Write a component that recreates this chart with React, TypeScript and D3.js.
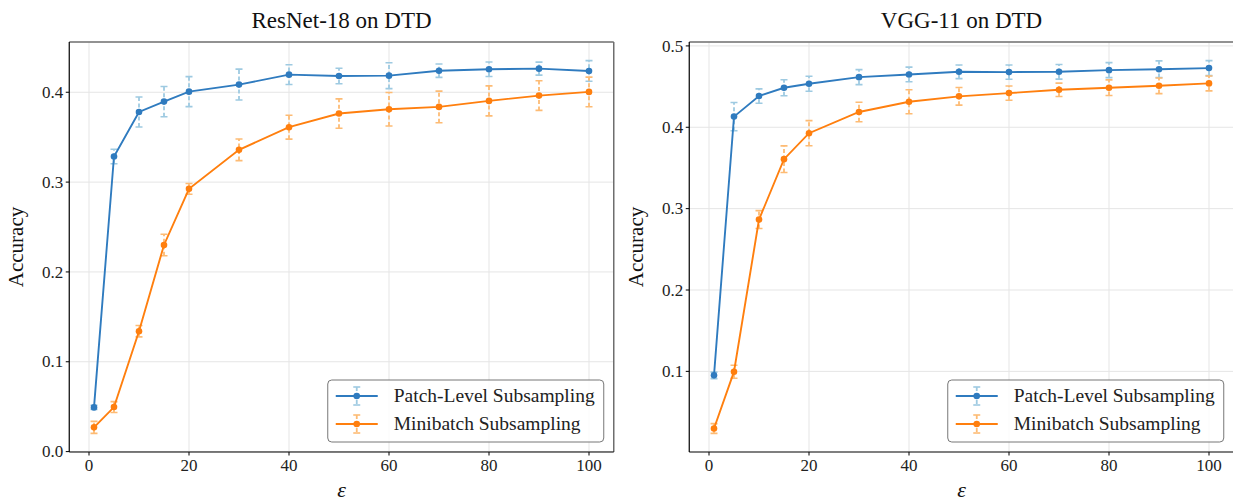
import React from "react";
import * as d3 from "d3";

const eps = [1, 5, 10, 15, 20, 30, 40, 50, 60, 70, 80, 90, 100];
const xTicks = [0, 20, 40, 60, 80, 100];

const resnetPatchMean = [0.0492, 0.3285, 0.3781, 0.3896, 0.4007, 0.4085, 0.4196, 0.4181, 0.4185, 0.424, 0.4256, 0.4263, 0.4237];
const resnetPatchErr = [0.0024, 0.008, 0.0167, 0.0168, 0.0167, 0.0172, 0.011, 0.0087, 0.0144, 0.0074, 0.0081, 0.0072, 0.0115];
const resnetMiniMean = [0.027, 0.0496, 0.134, 0.23, 0.2925, 0.3359, 0.3611, 0.3763, 0.3811, 0.3837, 0.3904, 0.3963, 0.4004];
const resnetMiniErr = [0.0067, 0.006, 0.0063, 0.012, 0.006, 0.012, 0.0133, 0.0163, 0.0187, 0.0176, 0.0167, 0.0165, 0.0165];

const vggPatchMean = [0.0951, 0.4131, 0.4384, 0.4486, 0.4535, 0.4616, 0.4649, 0.4682, 0.4678, 0.4682, 0.4702, 0.4714, 0.4727];
const vggPatchErr = [0.004, 0.0173, 0.0088, 0.0098, 0.0092, 0.0092, 0.009, 0.0084, 0.0088, 0.009, 0.0092, 0.0102, 0.0092];
const vggMiniMean = [0.0298, 0.0996, 0.2865, 0.3608, 0.3927, 0.4188, 0.4314, 0.438, 0.442, 0.4461, 0.4486, 0.451, 0.4539];
const vggMiniErr = [0.006, 0.008, 0.011, 0.0163, 0.0155, 0.012, 0.0147, 0.0108, 0.0088, 0.0082, 0.0096, 0.0096, 0.0092];

const resnetYTicks = [0.0, 0.1, 0.2, 0.3, 0.4];
const vggYTicks = [0.1, 0.2, 0.3, 0.4, 0.5];

const seriesNames = ["Patch-Level Subsampling", "Minibatch Subsampling"];
const lineColors = ["#2f7bbf", "#ff7f0e"];
const errColors = ["#9ecae1", "#fdbb74"];

const FONT = "'Liberation Serif', 'DejaVu Serif', serif";

type Series = { mean: number[]; err: number[] };
type PanelCfg = { title: string; left: number; series: Series[]; yTicks: number[] };

const panels: PanelCfg[] = [
  { title: "ResNet-18 on DTD", left: 69.25, yTicks: resnetYTicks, series: [{ mean: resnetPatchMean, err: resnetPatchErr }, { mean: resnetMiniMean, err: resnetMiniErr }] },
  { title: "VGG-11 on DTD", left: 689.25, yTicks: vggYTicks, series: [{ mean: vggPatchMean, err: vggPatchErr }, { mean: vggMiniMean, err: vggMiniErr }] },
];

const W = 544.5;
const TOP = 42;
const BOTTOM = 452;

function Panel({ cfg }: { cfg: PanelCfg }) {
  const xmin = d3.min(eps)!;
  const xmax = d3.max(eps)!;
  const xm = (xmax - xmin) * 0.05;
  const x = d3.scaleLinear().domain([xmin - xm, xmax + xm]).range([cfg.left, cfg.left + W]);
  const lo = d3.min(cfg.series.flatMap((s) => s.mean.map((m, i) => m - s.err[i])))!;
  const hi = d3.max(cfg.series.flatMap((s) => s.mean.map((m, i) => m + s.err[i])))!;
  const ym = (hi - lo) * 0.05;
  const y = d3.scaleLinear().domain([lo - ym, hi + ym]).range([BOTTOM, TOP]);
  const fmt = d3.format(".1f");
  const line = d3.line<number>().x((_, i) => x(eps[i])).y((d) => y(d));
  const right = cfg.left + W;
  const cx = (cfg.left + right) / 2;

  const legW = 276;
  const legH = 62;
  const legX = right - 10 - legW;
  const legY = BOTTOM - 10 - legH;

  return (
    <g>
      <defs>
        <clipPath id={"clip" + cfg.left}>
          <rect x={cfg.left} y={TOP} width={W} height={BOTTOM - TOP} />
        </clipPath>
      </defs>
      {xTicks.map((t) => (
        <line key={"gx" + t} x1={x(t)} x2={x(t)} y1={TOP} y2={BOTTOM} stroke="#e5e5e5" strokeWidth={1} />
      ))}
      {cfg.yTicks.map((t) => (
        <line key={"gy" + t} x1={cfg.left} x2={right} y1={y(t)} y2={y(t)} stroke="#e5e5e5" strokeWidth={1} />
      ))}
      <g clipPath={`url(#clip${cfg.left})`}>
        {cfg.series.map((s, si) => (
          <g key={"e" + si}>
            {s.mean.map((m, i) => {
              const px = x(eps[i]);
              const y1 = y(m - s.err[i]);
              const y2 = y(m + s.err[i]);
              return (
                <g key={i}>
                  <line x1={px} x2={px} y1={y1} y2={y2} stroke={errColors[si]} strokeWidth={1.8} strokeDasharray="4,2.5" />
                  <line x1={px - 3.5} x2={px + 3.5} y1={y1} y2={y1} stroke={errColors[si]} strokeWidth={1.6} />
                  <line x1={px - 3.5} x2={px + 3.5} y1={y2} y2={y2} stroke={errColors[si]} strokeWidth={1.6} />
                </g>
              );
            })}
          </g>
        ))}
        {cfg.series.map((s, si) => (
          <g key={"l" + si}>
            <path d={line(s.mean) || ""} fill="none" stroke={lineColors[si]} strokeWidth={1.9} />
            {s.mean.map((m, i) => (
              <circle key={i} cx={x(eps[i])} cy={y(m)} r={3.3} fill={lineColors[si]} />
            ))}
          </g>
        ))}
      </g>
      <line x1={cfg.left} x2={right} y1={TOP} y2={TOP} stroke="#6e6e6e" strokeWidth={1.5} />
      <line x1={right} x2={right} y1={TOP} y2={BOTTOM} stroke="#6e6e6e" strokeWidth={1.5} />
      <line x1={cfg.left} x2={cfg.left} y1={TOP} y2={BOTTOM} stroke="#000" strokeWidth={1.2} />
      <line x1={cfg.left} x2={right} y1={BOTTOM} y2={BOTTOM} stroke="#000" strokeWidth={1.2} />
      {xTicks.map((t) => (
        <g key={"tx" + t}>
          <line x1={x(t)} x2={x(t)} y1={BOTTOM} y2={BOTTOM + 3.5} stroke="#000" strokeWidth={1} />
          <text x={x(t)} y={BOTTOM + 19} textAnchor="middle" fontFamily={FONT} fontSize={17} fill="#222">{t}</text>
        </g>
      ))}
      {cfg.yTicks.map((t) => (
        <g key={"ty" + t}>
          <line x1={cfg.left - 3.5} x2={cfg.left} y1={y(t)} y2={y(t)} stroke="#000" strokeWidth={1} />
          <text x={cfg.left - 6} y={y(t)} dy="0.33em" textAnchor="end" fontFamily={FONT} fontSize={17} fill="#222">{fmt(t)}</text>
        </g>
      ))}
      <text x={cx} y={28} textAnchor="middle" fontFamily={FONT} fontSize={23} fill="#111">{cfg.title}</text>
      <text x={cx} y={497} textAnchor="middle" fontFamily={FONT} fontSize={22} fontStyle="italic" fill="#111">ε</text>
      <text transform={`translate(${cfg.left - 46},${(TOP + BOTTOM) / 2}) rotate(-90)`} textAnchor="middle" fontFamily={FONT} fontSize={21} fill="#111">Accuracy</text>
      <rect x={legX} y={legY} width={legW} height={legH} rx={4} fill="#fff" fillOpacity={0.85} stroke="#777" strokeWidth={1} />
      {seriesNames.map((n, si) => {
        const ry = legY + 16 + si * 28;
        const hx = legX + 29;
        return (
          <g key={n}>
            <line x1={hx} x2={hx} y1={ry - 9} y2={ry + 9} stroke={errColors[si]} strokeWidth={1.8} strokeDasharray="4,2.5" />
            <line x1={hx - 3.5} x2={hx + 3.5} y1={ry - 9} y2={ry - 9} stroke={errColors[si]} strokeWidth={1.6} />
            <line x1={hx - 3.5} x2={hx + 3.5} y1={ry + 9} y2={ry + 9} stroke={errColors[si]} strokeWidth={1.6} />
            <line x1={legX + 8} x2={legX + 50} y1={ry} y2={ry} stroke={lineColors[si]} strokeWidth={1.9} />
            <circle cx={hx} cy={ry} r={3.3} fill={lineColors[si]} />
            <text x={legX + 66} y={ry} dy="0.33em" fontFamily={FONT} fontSize={19.5} fill="#222">{n}</text>
          </g>
        );
      })}
    </g>
  );
}

export default function App() {
  return (
    <svg width={1233} height={501} style={{ position: "absolute", left: 0, top: 0, background: "#fff" }}>
      <rect width={1233} height={501} fill="#fff" />
      {panels.map((p) => (
        <Panel key={p.title} cfg={p} />
      ))}
    </svg>
  );
}
